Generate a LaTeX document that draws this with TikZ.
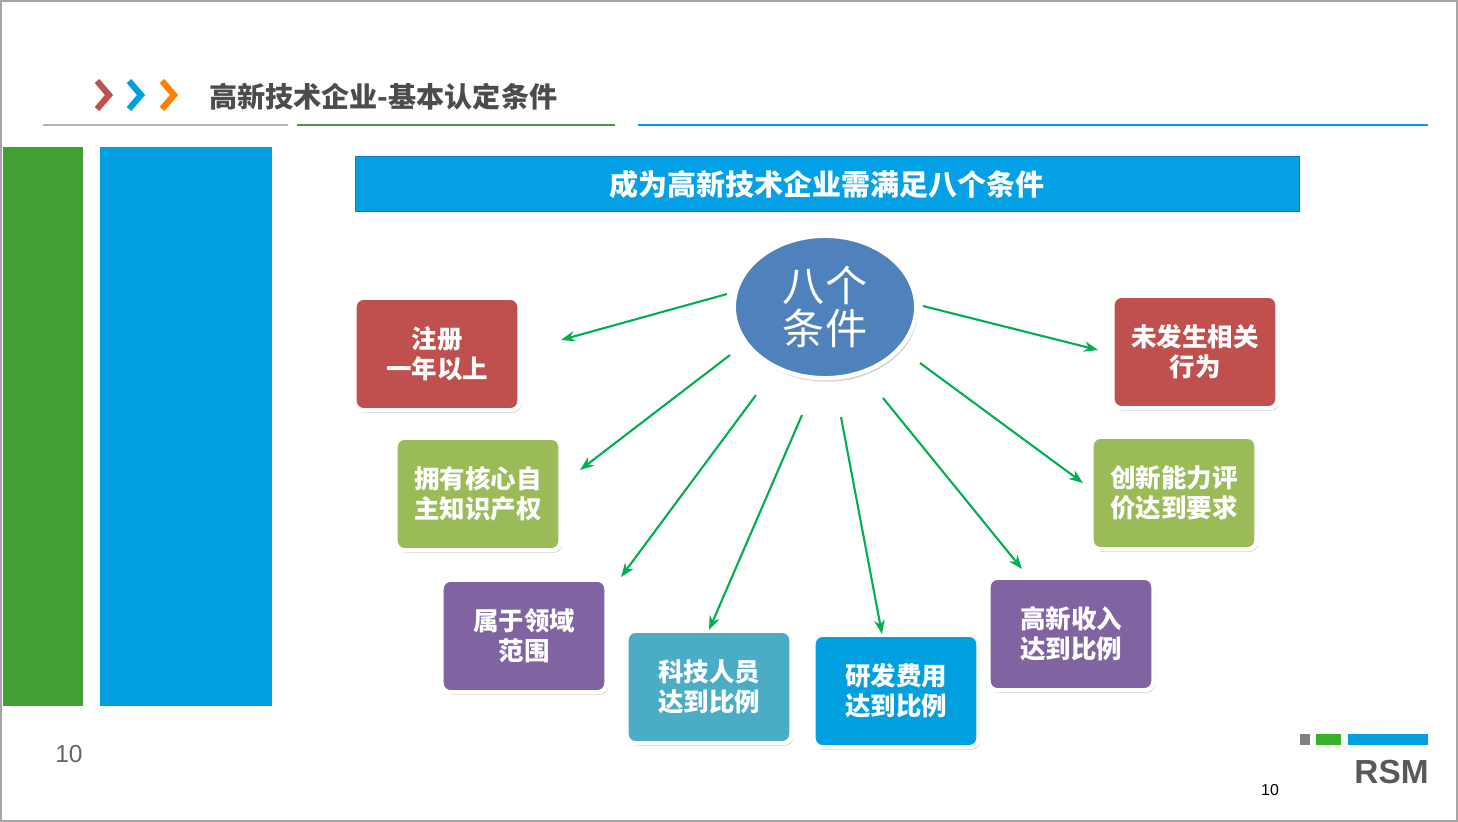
\documentclass[tikz,border=0pt]{standalone}
\usepackage{fontspec}
\setmainfont{Noto Sans CJK SC}
\newfontfamily\lat{Liberation Sans}
\usetikzlibrary{arrows.meta,shadows,shapes.geometric}
\definecolor{cred}{HTML}{C0504D}
\definecolor{cgreen}{HTML}{9BBB59}
\definecolor{cpurple}{HTML}{8064A2}
\definecolor{cteal}{HTML}{4BACC6}
\definecolor{cblue}{HTML}{00A0E0}
\definecolor{cell}{HTML}{4F81BD}
\definecolor{arr}{HTML}{00B050}
\definecolor{sgreen}{HTML}{43A033}
\definecolor{sblue}{HTML}{009FDF}
\begin{document}
\begin{tikzpicture}[x=0.02cm,y=-0.02cm,
  box/.style={draw=white,line width=2.5pt,rounded corners=5pt,text=white,font=\fontsize{14.5}{17}\selectfont\bfseries,align=center,minimum width=3.3cm,minimum height=2.25cm,drop shadow={shadow xshift=1pt,shadow yshift=-1.5pt,opacity=0.35}},
  ar/.style={draw=arr,line width=1.2pt,-{Stealth[length=8pt,width=6pt]}}]
\useasboundingbox (0,0) rectangle (1458,822);
\draw[gray!70,line width=1pt] (1,1) rectangle (1457,821);
% header
\foreach \x/\c in {103/cred,135/sblue,168/orange}
  \draw[\c,line width=3.5pt] (\x-6,81) -- (\x+6,95) -- (\x-6,109);
\node[anchor=west,text=black!70,font=\fontsize{16}{18}\selectfont\bfseries] (title) at (203,97) {高新技术企业-基本认定条件};
\draw[gray!60,line width=0.8pt] (43,125) -- (288,125);
\draw[sgreen,line width=0.8pt] (297,125) -- (615,125);
\draw[sblue,line width=0.8pt] (638,125) -- (1428,125);
\fill[sgreen] (3,147) rectangle (83,706);
\fill[sblue] (100,147) rectangle (272,706);
% banner
\node[fill=cyan!90!blue,draw=cyan!60!blue,minimum width=18.88cm,minimum height=1.1cm,text=white,font=\fontsize{16.5}{19}\selectfont\bfseries] (ban) at (827,184) {成为高新技术企业需满足八个条件};
% center
\node[ellipse,fill=cell,draw=white,line width=2.5pt,minimum width=3.65cm,minimum height=2.85cm,text=white,font=\fontsize{24}{24}\selectfont,align=center,drop shadow={shadow xshift=1pt,shadow yshift=-2pt,opacity=0.35},inner sep=0pt] (c) at (825,307) {八个\\条件};
% boxes
\node[box,fill=cred] (b1) at (437,354) {注册\\一年以上};
\node[box,fill=cgreen] (b2) at (478,494) {拥有核心自\\主知识产权};
\node[box,fill=cpurple] (b3) at (524,636) {属于领域\\范围};
\node[box,fill=cteal] (b4) at (709,687) {科技人员\\达到比例};
\node[box,fill=cblue] (b5) at (896,691) {研发费用\\达到比例};
\node[box,fill=cpurple] (b6) at (1071,634) {高新收入\\达到比例};
\node[box,fill=cgreen] (b7) at (1174,493) {创新能力评\\价达到要求};
\node[box,fill=cred] (b8) at (1195,352) {未发生相关\\行为};
% arrows
\coordinate (s1) at (727,294); \coordinate (e1) at (561,340);
\coordinate (s2) at (730,355); \coordinate (e2) at (580,470);
\coordinate (s3) at (756,395); \coordinate (e3) at (621,577);
\coordinate (s4) at (802,415); \coordinate (e4) at (709,630);
\coordinate (s5) at (841,417); \coordinate (e5) at (882,634);
\coordinate (s6) at (883,398); \coordinate (e6) at (1022,569);
\coordinate (s7) at (920,363); \coordinate (e7) at (1083,483);
\coordinate (s8) at (923,306); \coordinate (e8) at (1098,350);
\foreach \i in {1,...,8} \draw[ar] (s\i) -- (e\i);
% footer
\node[text=black!60,font=\lat\fontsize{14}{16}\selectfont] (p1) at (69,754) {10};
\node[text=black,font=\lat\fontsize{9}{10}\selectfont] (p2) at (1270,790) {10};
\fill[gray] (1300,734) rectangle (1310,745);
\fill[sgreen!80!green] (1316,734) rectangle (1341,745);
\fill[sblue] (1348,734) rectangle (1428,745);
\node[anchor=east,text=black!65,font=\lat\fontsize{19}{20}\selectfont\bfseries,inner sep=0pt] (rsm) at (1429,772) {RSM};
\end{tikzpicture}
\end{document}
